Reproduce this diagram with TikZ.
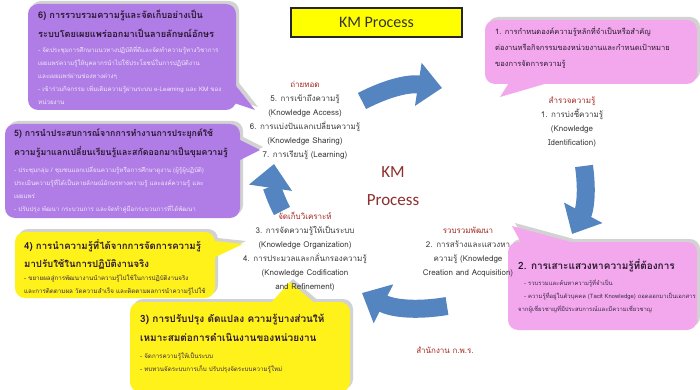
\documentclass[tikz,border=0pt]{standalone}
\usepackage{fontspec}
\setmainfont[Script=Thai]{Loma}
\newfontfamily\latinsans{Carlito}
\usetikzlibrary{arrows.meta}
\definecolor{purplebox}{HTML}{B07CE6}
\definecolor{pinkbox}{HTML}{F3A8EE}
\definecolor{yellowbox}{HTML}{FFF21A}
\definecolor{titleyellow}{HTML}{FFFF00}
\definecolor{shadowgray}{HTML}{D2D2D2}
\definecolor{arrowblue}{HTML}{5585C0}
\definecolor{labelred}{HTML}{A3261F}
\definecolor{kmred}{HTML}{8E2F2F}
\definecolor{headtext}{HTML}{2A1A30}
\definecolor{bodytext}{HTML}{3A2A44}
\definecolor{lightbody}{HTML}{F1E8F8}
\definecolor{ctrtext}{HTML}{3A3A3A}
\newcommand\bubble[3]{%
  \begin{scope}[shift={(3,-3)}]
    \fill[shadowgray,rounded corners=10pt] #2;
    \fill[shadowgray] #3;
  \end{scope}
  \fill[#1,rounded corners=10pt] #2;
  \fill[#1] #3;}
\tikzset{
  head/.style={anchor=north west, inner sep=0pt, align=left,
    font=\fontsize{#1}{18.5}\selectfont\bfseries, text=headtext},
  head/.default=10,
  body/.style={anchor=north west, inner sep=0pt, align=left,
    font=\fontsize{#1}{13}\selectfont, text=bodytext},
  body/.default=6.2,
  ctr/.style={anchor=north, inner sep=0pt, align=center,
    font=\fontsize{8}{14}\selectfont, text=ctrtext},
  cyc/.style={line width=18pt, arrowblue, -{Triangle[length=24pt,width=42pt]}},
}
\begin{document}
\begin{tikzpicture}[x=1pt,y=-1pt]
\useasboundingbox (0,0) rectangle (700,390);
\fill[white] (0,0) rectangle (700,390);

% title
\node[draw=black!85, line width=1.4pt, fill=titleyellow, minimum width=171pt,
  minimum height=29pt, inner sep=0pt, font=\latinsans\fontsize{16}{18}\selectfont,
  text=black!80] (title) at (376.5,22.5) {KM Process};

% callouts
\bubble{purplebox}{(28,4) rectangle (236,110)}{(225,72)--(225,100)--(255,110)--cycle}
\node[head=9.2] (h6) at (38,10) {6) การรวบรวมความรู้และจัดเก็บอย่างเป็น\\ระบบโดยเผยแพร่ออกมาเป็นลายลักษณ์อักษร};
\node[body, text=lightbody] (b6) at (38,46) {- จัดประชุมการศึกษาแนวทางปฏิบัติที่ดีและจัดทำความรู้ทางวิชาการ\\เผยแพร่ความรู้ให้บุคลากรนำไปใช้ประโยชน์ในการปฏิบัติงาน\\และเผยแพร่ผ่านช่องทางต่างๆ\\- เข้าร่วมกิจกรรม เพิ่มเติมความรู้ผ่านระบบ e-Learning และ KM ของ\\หน่วยงาน};

\bubble{purplebox}{(5,124) rectangle (240,218)}{(230,135)--(230,165)--(260,150)--cycle}
\node[head=8.8] (h5) at (14,129) {5) การนำประสบการณ์จากการทำงานการประยุกต์ใช้\\ความรู้มาแลกเปลี่ยนเรียนรู้และสกัดออกมาเป็นขุมความรู้};
\node[body, text=lightbody] (b5) at (14,166) {- ประชุมกลุ่ม / ชุมชนแลกเปลี่ยนความรู้หรือการศึกษาดูงาน (ผู้รู้ผู้ปฏิบัติ)\\ประเมินความรู้ที่ได้เป็นลายลักษณ์อักษรทางความรู้ และองค์ความรู้ และ\\เผยแพร่\\- ปรับปรุง พัฒนา กระบวนการ และจัดทำคู่มือกระบวนการที่ได้พัฒนา};

\bubble{yellowbox}{(15,232) rectangle (215,298)}{(205,240)--(205,262)--(243,244)--cycle}
\node[head=9.6] (h4) at (24,239) {4) การนำความรู้ที่ได้จากการจัดการความรู้\\มาปรับใช้ในการปฏิบัติงานจริง};
\node[body] (b4) at (24,275) {- ขยายผลสู่การพัฒนางานนำความรู้ไปใช้ในการปฏิบัติงานจริง\\และการติดตามผล วัดความสำเร็จ และติดตามผลการนำความรู้ไปใช้};

\bubble{yellowbox}{(130,302) rectangle (350,392)}{(268,306)--(318,306)--(290,282)--cycle}
\node[head] (h3) at (140,314) {3) การปรับปรุง ดัดแปลง ความรู้บางส่วนให้\\เหมาะสมต่อการดำเนินงานของหน่วยงาน};
\node[body] (b3) at (140,353) {- จัดการความรู้ให้เป็นระบบ\\- ทบทวนจัดระบบการเก็บ ปรับปรุงจัดระบบความรู้ใหม่};

\bubble{pinkbox}{(508,242) rectangle (697,330)}{(525,250)--(600,250)--(512,226)--cycle}
\node[head] (h2) at (518,259) {2. การเสาะแสวงหาความรู้ที่ต้องการ};
\node[body=5.9] (b2) at (518,279) {\hspace{6pt}- รวบรวมและค้นหาความรู้ที่จำเป็น\\\hspace{6pt}- ความรู้ที่อยู่ในตัวบุคคล (Tacit Knowledge) ถอดออกมาเป็นเอกสาร\\จากผู้เชี่ยวชาญที่มีประสบการณ์และมีความเชี่ยวชาญ};

\bubble{pinkbox}{(485,20) rectangle (697,84)}{(512,78)--(565,78)--(500,97)--cycle}
\node[anchor=north west, inner sep=0pt, align=left, font=\fontsize{7.5}{16}\selectfont,
  text=headtext] (t1) at (495,27) {1. การกำหนดองค์ความรู้หลักที่จำเป็นหรือสำคัญ\\ต่องานหรือกิจกรรมของหน่วยงานและกำหนดเป้าหมาย\\ของการจัดการความรู้};

% cycle arrows
\coordinate (ta) at (362,101);
\coordinate (tb) at (442,88);
\coordinate (ra) at (584,166);
\coordinate (rb) at (572,234);
\coordinate (ba) at (447,306);
\coordinate (bb) at (362,293);
\coordinate (la) at (282,211);
\coordinate (lb) at (274,164);
\draw[cyc] (ta) to[bend left=18] (tb);
\draw[cyc] (ra) to[bend left=18] (rb);
\draw[cyc] (ba) to[bend left=18] (bb);
\draw[cyc] (la) to[bend left=18] (lb);

% centre labels
\node[ctr] (gTL) at (305,81) {\textcolor{labelred}{ถ่ายทอด}\\5. การเข้าถึงความรู้\\(Knowledge Access)\\6. การแบ่งปันแลกเปลี่ยนความรู้\\(Knowledge Sharing)\\7. การเรียนรู้ (Learning)};
\node[ctr] (gTR) at (572,97) {\textcolor{labelred}{สำรวจความรู้}\\1. การบ่งชี้ความรู้\\(Knowledge\\Identification)};
\node[ctr] (gBL) at (305,212) {\textcolor{labelred}{จัดเก็บวิเคราะห์}\\3. การจัดความรู้ให้เป็นระบบ\\(Knowledge Organization)\\4. การประมวลและกลั่นกรองความรู้\\(Knowledge Codification\\and Refinement)};
\node[ctr] (gBR) at (468,227) {\textcolor{labelred}{รวบรวมพัฒนา}\\2. การสร้างและแสวงหา\\ความรู้ (Knowledge\\Creation and Acquisition)};
\node[ctr, text=labelred] (ocsc) at (445,347) {สำนักงาน ก.พ.ร.};

\node[font=\latinsans\fontsize{17}{20}\selectfont, text=kmred, inner sep=0pt] (km) at (393,172) {KM};
\node[font=\latinsans\fontsize{17}{20}\selectfont, text=kmred, inner sep=0pt] (proc) at (393,200) {Process};
\end{tikzpicture}
\end{document}
